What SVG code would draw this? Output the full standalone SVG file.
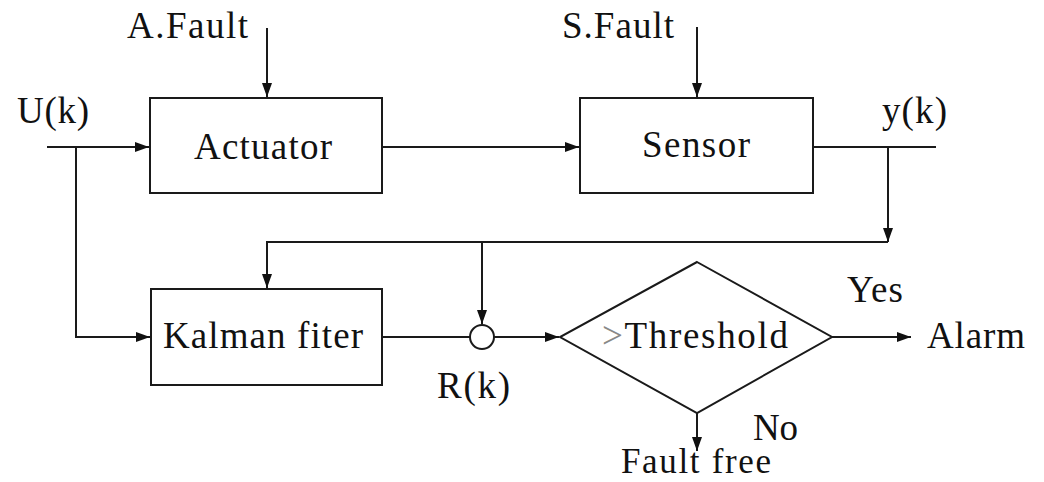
<svg xmlns="http://www.w3.org/2000/svg" width="1044" height="482" viewBox="0 0 1044 482">
<style>
.box{fill:#fff;stroke:#1a1a1a;stroke-width:2}
.ln{fill:none;stroke:#1a1a1a;stroke-width:2}
text{font-family:"Liberation Serif","Times New Roman",serif;font-size:37px;fill:#111}
</style>
<defs>
<marker id="ar" markerUnits="userSpaceOnUse" markerWidth="15" markerHeight="10" refX="14" refY="5" orient="auto">
<path d="M0,0 L14,5 L0,10 z" fill="#111"/>
</marker>
</defs>
<rect width="1044" height="482" fill="#fff"/>
<g id="connectors">
<path class="ln" d="M47,147 H149" marker-end="url(#ar)"/>
<path class="ln" d="M76,147 V337 H150" marker-end="url(#ar)"/>
<path class="ln" d="M267,28 V97" marker-end="url(#ar)"/>
<path class="ln" d="M382,147 H579" marker-end="url(#ar)"/>
<path class="ln" d="M697,27 V97" marker-end="url(#ar)"/>
<path class="ln" d="M813,147 H936"/>
<path class="ln" d="M888,147 V242" marker-end="url(#ar)"/>
<path class="ln" d="M888,242 H267 V288" marker-end="url(#ar)"/>
<path class="ln" d="M482,242 V324" marker-end="url(#ar)"/>
<path class="ln" d="M382,337 H470"/>
<path class="ln" d="M494,337 H559" marker-end="url(#ar)"/>
<path class="ln" d="M832,337 H911" marker-end="url(#ar)"/>
<path class="ln" d="M697,413 V451" marker-end="url(#ar)"/>
</g>
<g id="actuator">
<rect class="box" x="150" y="98" width="232" height="95"/>
<text x="194" y="159" textLength="138">Actuator</text>
</g>
<g id="sensor">
<rect class="box" x="580" y="98" width="233" height="95"/>
<text x="642" y="157" textLength="108">Sensor</text>
</g>
<g id="kalman">
<rect class="box" x="151" y="289" width="231" height="96"/>
<text x="163" y="348" textLength="200">Kalman fiter</text>
</g>
<g id="sum">
<circle class="box" cx="482" cy="337" r="12"/>
</g>
<g id="threshold">
<polygon class="box" points="697,262 832,337 697,413 560,337"/>
<text x="602" y="348" textLength="186"><tspan fill="#888">&gt;</tspan>Threshold</text>
</g>
<g id="labels">
<text x="127" y="38" textLength="121">A.Fault</text>
<text x="562" y="38" textLength="112">S.Fault</text>
<text x="17" y="123" textLength="72">U(k)</text>
<text x="882" y="123" textLength="65">y(k)</text>
<text x="437" y="398" textLength="73">R(k)</text>
<text x="847" y="302" textLength="56">Yes</text>
<text x="927" y="348" textLength="98">Alarm</text>
<text x="753" y="440" textLength="45">No</text>
<text x="621" y="473" textLength="150" style="font-size:35px">Fault free</text>
</g>
</svg>
